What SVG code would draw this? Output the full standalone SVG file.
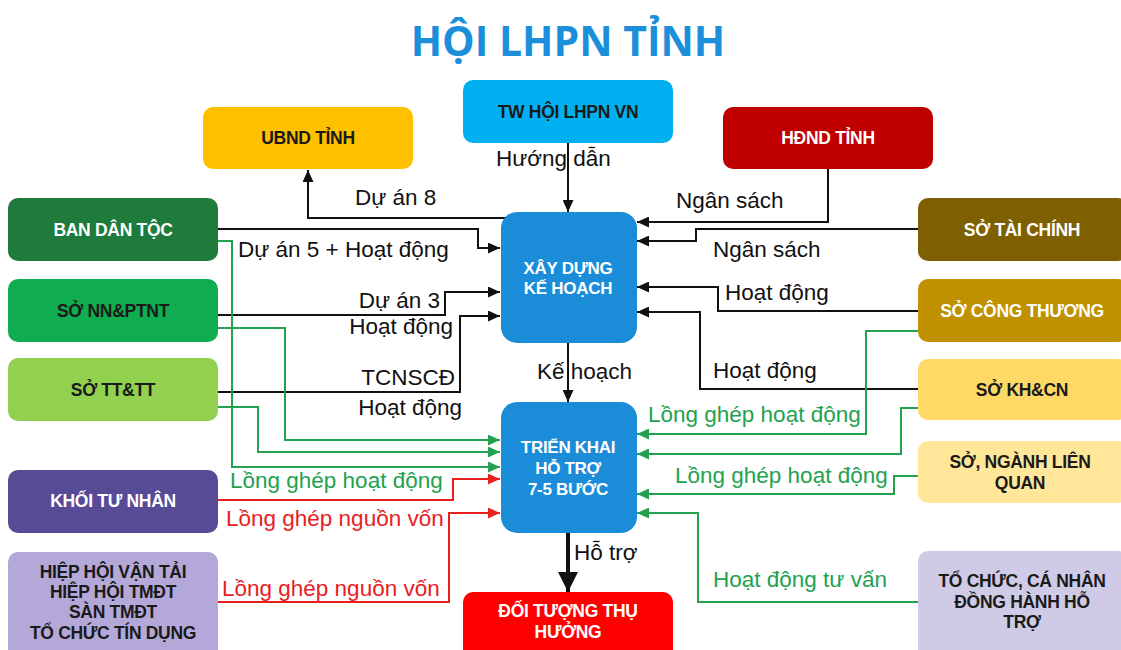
<svg xmlns="http://www.w3.org/2000/svg" width="1121" height="650" viewBox="0 0 1121 650">
<style>
.nt{font-family:"Liberation Sans",Arial,sans-serif;font-weight:bold;font-size:17.5px;text-anchor:middle;letter-spacing:-0.3px}
.w{fill:#ffffff}
.d{fill:#1a1a1a}
.lb{font-family:"Liberation Sans",Arial,sans-serif;font-size:22.5px;fill:#111111}
.lg{font-family:"Liberation Sans",Arial,sans-serif;font-size:22.5px;fill:#22A24F}
.lr{font-family:"Liberation Sans",Arial,sans-serif;font-size:22.5px;fill:#E8201F}
.ck{fill:none;stroke:#111111;stroke-width:2;marker-end:url(#ak)}
.cg{fill:none;stroke:#22A24F;stroke-width:2;marker-end:url(#ag)}
.cr{fill:none;stroke:#E8201F;stroke-width:2;marker-end:url(#ar)}
</style>
<defs>
<marker id="ak" markerUnits="userSpaceOnUse" markerWidth="12" markerHeight="11" refX="12" refY="5.5" orient="auto"><path d="M0,0 L12,5.5 L0,11 z" fill="#111111"/></marker>
<marker id="ag" markerUnits="userSpaceOnUse" markerWidth="12" markerHeight="11" refX="12" refY="5.5" orient="auto"><path d="M0,0 L12,5.5 L0,11 z" fill="#22A24F"/></marker>
<marker id="ar" markerUnits="userSpaceOnUse" markerWidth="12" markerHeight="11" refX="12" refY="5.5" orient="auto"><path d="M0,0 L12,5.5 L0,11 z" fill="#E8201F"/></marker>
<marker id="abig" markerUnits="userSpaceOnUse" markerWidth="20" markerHeight="20" refX="20" refY="10" orient="auto"><path d="M0,0 L20,10 L0,20 z" fill="#111111"/></marker>
</defs>
<rect width="1121" height="650" fill="#ffffff"/>
<text x="568" y="56" font-family="'Open Sans','Liberation Sans',sans-serif" font-weight="bold" font-size="41" fill="#1C8FDB" text-anchor="middle">HỘI LHPN TỈNH</text>

<g id="connectors">
<path class="ck" d="M568,143 V212"/>
<path class="ck" d="M506,218 H308 V170"/>
<path class="ck" d="M218,229 H478 V248 H500"/>
<path class="ck" d="M218,315 H445 V292 H500"/>
<path class="ck" d="M218,392 H460 V316 H500"/>
<path class="ck" d="M828,169 V222 H637"/>
<path class="ck" d="M918,229 H696 V241 H637"/>
<path class="ck" d="M918,311 H718 V287 H637"/>
<path class="ck" d="M918,389 H700 V312 H637"/>
<path class="ck" d="M568,343 V402"/>
<path d="M568,533 V592" fill="none" stroke="#111111" stroke-width="4" marker-end="url(#abig)"/>
<path class="cg" d="M218,241 H232 V467 H500"/>
<path class="cg" d="M218,328 H285 V440 H500"/>
<path class="cg" d="M218,407 H258 V452 H500"/>
<path class="cg" d="M918,331 H866 V434 H637"/>
<path class="cg" d="M918,408 H901 V454 H637"/>
<path class="cg" d="M918,476 H894 V494 H637"/>
<path class="cg" d="M918,602 H698 V513 H637"/>
<path class="cr" d="M218,500 H453 V479 H500"/>
<path class="cr" d="M218,602 H449 V513 H500"/>
</g>

<g id="labels">
<text class="lb" x="496" y="166">Hướng dẫn</text>
<text class="lb" x="355" y="205">Dự án 8</text>
<text class="lb" x="238" y="257">Dự án 5 + Hoạt động</text>
<text class="lb" x="676" y="208">Ngân sách</text>
<text class="lb" x="713" y="257">Ngân sách</text>
<text class="lb" x="440" y="308" text-anchor="end">Dự án 3</text>
<text class="lb" x="453" y="334" text-anchor="end">Hoạt động</text>
<text class="lb" x="455" y="385" text-anchor="end">TCNSCĐ</text>
<text class="lb" x="462" y="415" text-anchor="end">Hoạt động</text>
<text class="lb" x="725" y="300">Hoạt động</text>
<text class="lb" x="713" y="378">Hoạt động</text>
<text class="lb" x="537" y="379">Kế hoạch</text>
<text class="lb" x="574" y="560">Hỗ trợ</text>
<text class="lg" x="648" y="422">Lồng ghép hoạt động</text>
<text class="lg" x="675" y="483">Lồng ghép hoạt động</text>
<text class="lg" x="713" y="587">Hoạt động tư vấn</text>
<text class="lg" x="230" y="488">Lồng ghép hoạt động</text>
<text class="lr" x="226" y="526">Lồng ghép nguồn vốn</text>
<text class="lr" x="222" y="596">Lồng ghép nguồn vốn</text>
</g>

<g id="n-tw"><rect x="463" y="80" width="210" height="63" rx="10" fill="#00B0F0"/><text class="nt d" x="568" y="118">TW HỘI LHPN VN</text></g>
<g id="n-ubnd"><rect x="203" y="107" width="210" height="62" rx="10" fill="#FFC000"/><text class="nt d" x="308" y="144">UBND TỈNH</text></g>
<g id="n-hdnd"><rect x="723" y="107" width="210" height="62" rx="10" fill="#C00000"/><text class="nt w" x="828" y="144">HĐND TỈNH</text></g>

<g id="n-bandantoc"><rect x="8" y="198" width="210" height="63" rx="10" fill="#1E7B3C"/><text class="nt w" x="113" y="236">BAN DÂN TỘC</text></g>
<g id="n-sonn"><rect x="8" y="279" width="210" height="63" rx="10" fill="#0FAD50"/><text class="nt d" x="113" y="317">SỞ NN&amp;PTNT</text></g>
<g id="n-sott"><rect x="8" y="358" width="210" height="63" rx="10" fill="#92D050"/><text class="nt d" x="113" y="396">SỞ TT&amp;TT</text></g>
<g id="n-khoitunhan"><rect x="8" y="470" width="210" height="63" rx="10" fill="#584B96"/><text class="nt w" x="113" y="507">KHỐI TƯ NHÂN</text></g>
<g id="n-hiephoi"><rect x="8" y="552" width="210" height="110" rx="10" fill="#B3A8D8"/>
<text class="nt d" x="113" y="578">HIỆP HỘI VẬN TẢI</text>
<text class="nt d" x="113" y="598">HIỆP HỘI TMĐT</text>
<text class="nt d" x="113" y="618">SÀN TMĐT</text>
<text class="nt d" x="113" y="639">TỔ CHỨC TÍN DỤNG</text></g>

<g id="n-xaydung"><rect x="501" y="212" width="136" height="131" rx="16" fill="#1A8CD8"/>
<text class="nt w" x="568" y="274" style="font-size:17px">XÂY DỰNG</text>
<text class="nt w" x="568" y="294" style="font-size:17px">KẾ HOẠCH</text></g>
<g id="n-trienkhai"><rect x="501" y="402" width="136" height="131" rx="16" fill="#1A8CD8"/>
<text class="nt w" x="568" y="453" style="font-size:17px">TRIỂN KHAI</text>
<text class="nt w" x="568" y="474" style="font-size:17px">HỖ TRỢ</text>
<text class="nt w" x="568" y="495" style="font-size:17px">7-5 BƯỚC</text></g>
<g id="n-doituong"><rect x="463" y="592" width="210" height="70" rx="10" fill="#FF0000"/>
<text class="nt w" x="568" y="617">ĐỐI TƯỢNG THỤ</text>
<text class="nt w" x="568" y="638">HƯỞNG</text></g>

<g id="n-taichinh"><rect x="918" y="198" width="210" height="63" rx="10" fill="#7F6000"/><text class="nt w" x="1022" y="236">SỞ TÀI CHÍNH</text></g>
<g id="n-congthuong"><rect x="918" y="279" width="210" height="63" rx="10" fill="#BF9000"/><text class="nt w" x="1022" y="317">SỞ CÔNG THƯƠNG</text></g>
<g id="n-khcn"><rect x="918" y="359" width="210" height="61" rx="10" fill="#FFD966"/><text class="nt d" x="1022" y="396">SỞ KH&amp;CN</text></g>
<g id="n-songanh"><rect x="918" y="441" width="210" height="62" rx="10" fill="#FFE699"/>
<text class="nt d" x="1020" y="468">SỞ, NGÀNH LIÊN</text>
<text class="nt d" x="1020" y="489">QUAN</text></g>
<g id="n-tochuc"><rect x="918" y="551" width="210" height="110" rx="10" fill="#CFCBE6"/>
<text class="nt d" x="1022" y="587">TỔ CHỨC, CÁ NHÂN</text>
<text class="nt d" x="1022" y="608">ĐỒNG HÀNH  HỖ</text>
<text class="nt d" x="1022" y="628">TRỢ</text></g>
</svg>
